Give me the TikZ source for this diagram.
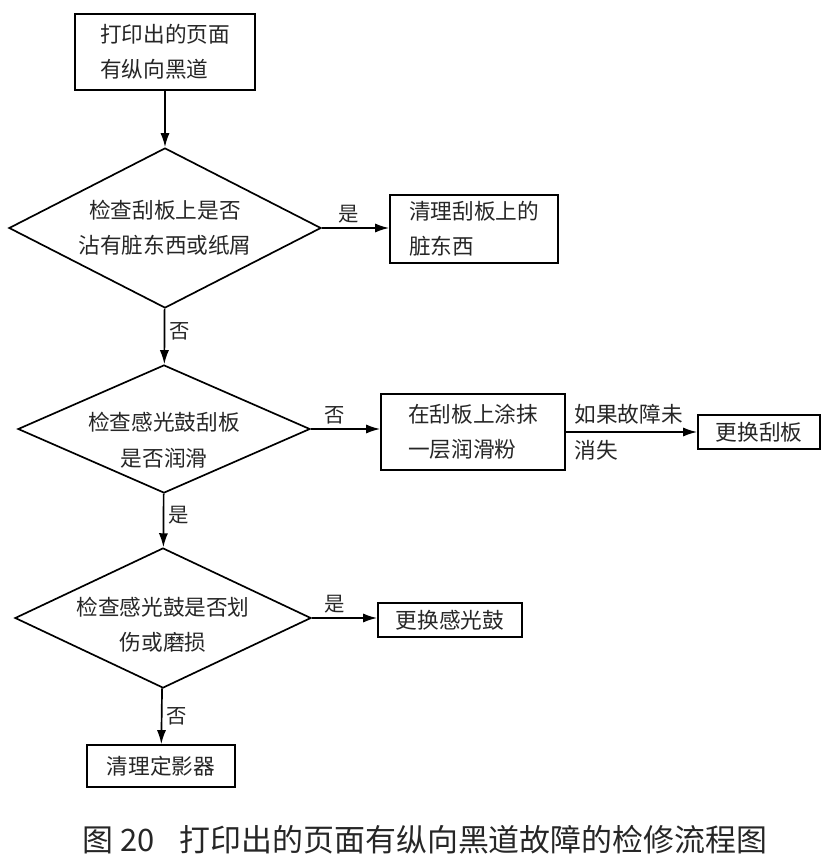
\documentclass[tikz,border=0pt]{standalone}
\usepackage{fontspec}
\setmainfont{Noto Sans CJK SC}
\usepackage{tikz}
\usetikzlibrary{positioning, arrows.meta, shapes.geometric}
\tikzset{
    process/.style={rectangle, draw=black, line width=1.2pt, fill=white, align=left, inner sep=0pt, text=black!85, font=\fontsize{15.4pt}{25pt}\selectfont},
    decision/.style={diamond, draw=black, line width=1.2pt, fill=white, align=center, inner sep=0pt, aspect=2.1, text=black!85, font=\fontsize{15.4pt}{25pt}\selectfont},
    question/.style={align=center, inner sep=0pt, text=black!85, font=\fontsize{15.4pt}{25pt}\selectfont},
    arrow/.style={-{Latex[length=10pt, width=6.5pt]}, line width=1.2pt},
    tag/.style={font=\fontsize{14.5pt}{18pt}\selectfont, text=black!85, inner sep=3pt},
    note/.style={font=\fontsize{15.4pt}{25.6pt}\selectfont, text=black!85, align=left, inner sep=0pt}
}
\begin{document}
\begin{tikzpicture}[x=0.025cm, y=-0.025cm]
    \useasboundingbox (0,0) rectangle (839,867);

    \node[process, minimum width=4.5cm, minimum height=1.9cm] (start) at (165,52) {打印出的页面\\有纵向黑道};
    \node[decision, minimum width=7.8cm, minimum height=4cm] (wiper) at (165,228) {检查刮板上是否\\沾有脏东西或纸屑};
    \node[process, minimum width=4.2cm, minimum height=1.7cm] (cleanwiper) at (474,229) {清理刮板上的\\脏东西};
    \node[decision, minimum width=7.3cm, minimum height=3.2cm,
          label={[question, yshift=-0.28cm]center:{检查感光鼓刮板\\是否润滑}}] (lube) at (164,429) {};
    \node[process, minimum width=4.6cm, minimum height=1.9cm] (powder) at (473,432) {在刮板上涂抹\\一层润滑粉};
    \node[process, minimum width=3.05cm, minimum height=0.85cm] (newwiper) at (759,432) {更换刮板};
    \node[decision, minimum width=7.4cm, minimum height=3.5cm,
          label={[question, yshift=-0.17cm]center:{检查感光鼓是否划\\伤或磨损}}] (drum) at (163,618) {};
    \node[process, minimum width=3.6cm, minimum height=0.85cm] (newdrum) at (450,620) {更换感光鼓};
    \node[process, minimum width=3.7cm, minimum height=1.05cm] (fuser) at (161,766) {清理定影器};

    % Arrows
    \draw[arrow] (start) -- (wiper);
    \draw[arrow] (wiper.east) -- node[tag, above, pos=0.4] {是} (wiper.east -| cleanwiper.west);
    \draw[arrow] (wiper) -- node[tag, right, pos=0.4] {否} (lube);
    \draw[arrow] (lube.east) -- node[tag, above, pos=0.35] {否} (lube.east -| powder.west);
    \draw[arrow] (powder.east) -- (powder.east -| newwiper.west);
    \draw[arrow] (lube) -- node[tag, right, pos=0.4] {是} (drum);
    \draw[arrow] (drum.east) -- node[tag, above, pos=0.35] {是} (drum.east -| newdrum.west);
    \draw[arrow] (drum) -- node[tag, right, pos=0.5] {否} (fuser);

    % Labels
    \node[note, right=6pt of powder.east] (retry) {如果故障未\\消失};
    \node[font=\fontsize{22pt}{26pt}\selectfont, text=black!85] (caption) at (425,840) {图 20\hspace{0.8em}打印出的页面有纵向黑道故障的检修流程图};
\end{tikzpicture}
\end{document}
